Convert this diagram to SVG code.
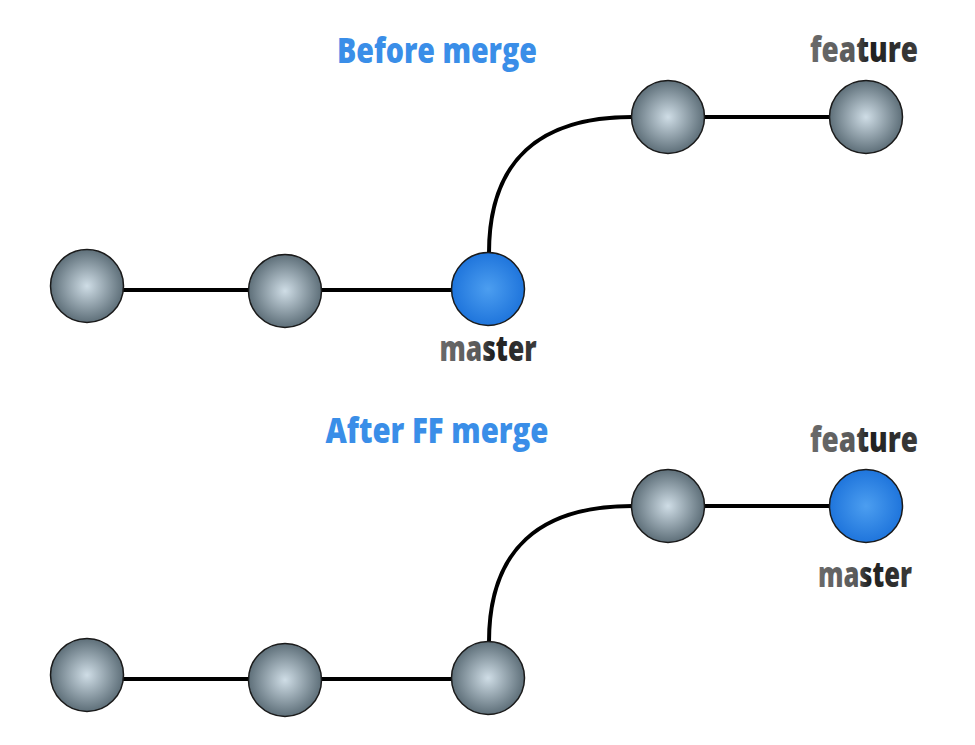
<svg xmlns="http://www.w3.org/2000/svg" width="975" height="745" viewBox="0 0 975 745">
<defs>
<radialGradient id="gray" cx="0.5" cy="0.5" r="0.5">
<stop offset="0" stop-color="#cfdde6"/>
<stop offset="1" stop-color="#5e6f79"/>
</radialGradient>
<radialGradient id="blue" cx="0.5" cy="0.5" r="0.5">
<stop offset="0" stop-color="#4c9ef0"/>
<stop offset="1" stop-color="#1f75dc"/>
</radialGradient>
<linearGradient id="label" x1="0" y1="0" x2="1" y2="0">
<stop offset="0" stop-color="#6a6a6a"/>
<stop offset="0.4" stop-color="#5a5a5a"/>
<stop offset="0.55" stop-color="#1e1e1e"/>
<stop offset="1" stop-color="#3c3c3c"/>
</linearGradient>
</defs>
<style>
.commit{stroke:#1a1a1a;stroke-width:1.5}
.edge{fill:none;stroke:#000;stroke-width:4}
.title{font-family:"Open Sans","Liberation Sans",sans-serif;font-weight:800;font-size:36px;fill:#3a8ee8;text-anchor:middle}
.branch{font-family:"Open Sans","Liberation Sans",sans-serif;font-weight:800;font-size:35px;fill:url(#label);text-anchor:middle}
</style>
<rect width="975" height="745" fill="#fff"/>
<g id="connectors">
<line class="edge" x1="123" y1="290" x2="249" y2="290"/>
<line class="edge" x1="321" y1="290" x2="452" y2="290"/>
<path class="edge" d="M489,253 C489,160 540,117 632,117"/>
<line class="edge" x1="632" y1="117" x2="830" y2="117"/>
<line class="edge" x1="123" y1="679" x2="249" y2="679"/>
<line class="edge" x1="321" y1="679" x2="452" y2="679"/>
<path class="edge" d="M489,642 C489,549 540,506 632,506"/>
<line class="edge" x1="632" y1="506" x2="830" y2="506"/>
</g>
<text id="title-before" class="title" x="437" y="63" textLength="200" lengthAdjust="spacingAndGlyphs">Before merge</text>
<text id="title-after" class="title" x="437" y="443" textLength="223" lengthAdjust="spacingAndGlyphs">After FF merge</text>
<g id="b1"><circle class="commit" cx="87" cy="286" r="36.5" fill="url(#gray)"/></g>
<g id="b2"><circle class="commit" cx="285" cy="291" r="36.5" fill="url(#gray)"/></g>
<g id="b3"><circle class="commit" cx="488" cy="289" r="36.5" fill="url(#blue)"/>
<text class="branch" x="488" y="361" textLength="97" lengthAdjust="spacingAndGlyphs">master</text></g>
<g id="b4"><circle class="commit" cx="668" cy="117" r="36.5" fill="url(#gray)"/></g>
<g id="b5"><circle class="commit" cx="866" cy="117" r="36.5" fill="url(#gray)"/>
<text class="branch" x="864" y="62" textLength="108" lengthAdjust="spacingAndGlyphs">feature</text></g>
<g id="a1"><circle class="commit" cx="87" cy="675" r="36.5" fill="url(#gray)"/></g>
<g id="a2"><circle class="commit" cx="285" cy="680" r="36.5" fill="url(#gray)"/></g>
<g id="a3"><circle class="commit" cx="488" cy="678" r="36.5" fill="url(#gray)"/></g>
<g id="a4"><circle class="commit" cx="668" cy="506" r="36.5" fill="url(#gray)"/></g>
<g id="a5"><circle class="commit" cx="866" cy="506" r="36.5" fill="url(#blue)"/>
<text class="branch" x="864" y="452" textLength="108" lengthAdjust="spacingAndGlyphs">feature</text>
<text class="branch" x="865" y="587" textLength="94" lengthAdjust="spacingAndGlyphs">master</text></g>
</svg>
